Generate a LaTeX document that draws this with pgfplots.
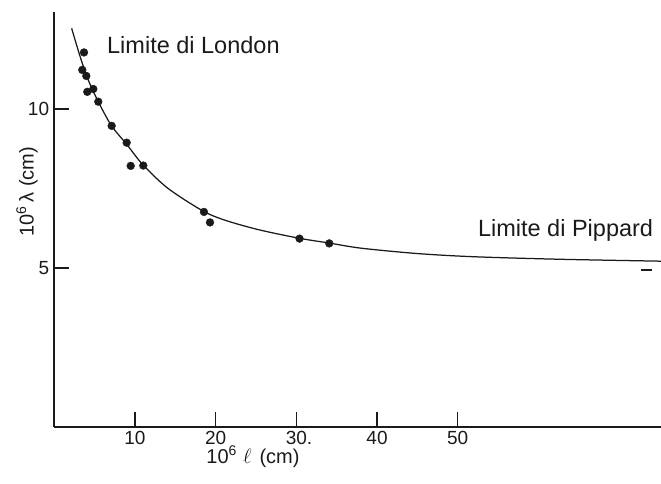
\documentclass[border=0pt]{standalone}
\usepackage{pgfplots}
\pgfplotsset{compat=1.18}
\usepackage{fontspec}
\setmainfont{Liberation Sans}
\definecolor{ink}{HTML}{1A1A1A}
\newcommand\tlfont{\fontsize{19}{19}\selectfont}
\newcommand\lbfont{\fontsize{20}{20}\selectfont}
\newcommand\txfont{\fontsize{23.5}{23.5}\selectfont}
\begin{document}
\begin{tikzpicture}
\useasboundingbox (-54.3pt,-56.3pt) rectangle (606.7pt,426.7pt);
\begin{axis}[
  scale only axis,
  width=606.7pt, height=414.6pt,
  xmin=0, xmax=75.2, ymin=0, ymax=13.05,
  axis x line=bottom, axis y line=left,
  axis line style={-, line width=1.8pt, ink},
  xtick={10,20,30,40,50},
  xticklabels={10,20,30\rlap{.},40,50},
  ytick={5,10},
  yticklabels={5,10},
  tick align=inside,
  major tick length=15pt,
  tick style={line width=1.5pt, ink},
  xticklabel style={font=\tlfont, text=ink, inner sep=0pt, yshift=-4pt},
  yticklabel style={font=\tlfont, text=ink, inner sep=0pt, xshift=-5pt},
  xlabel={10\textsuperscript{6}\hspace{6pt}$\ell$\hspace{8pt}(cm)},
  ylabel={10\textsuperscript{6}\hspace{3pt}λ\hspace{6pt}(cm)},
  xlabel style={font=\lbfont, text=ink, inner sep=0pt, at={(axis description cs:0.3275,-0.0888)}, anchor=base},
  ylabel style={font=\lbfont, text=ink, at={(axis description cs:-0.045,0.567)}, anchor=center},
  clip=false,
]
\addplot[ink, line width=1.25pt, smooth, tension=0.5] coordinates {
  (2.15,12.54) (3.2,11.65) (4.2,10.92) (5.45,10.23) (7.1,9.47) (9.0,8.88)
  (11.0,8.24) (14.1,7.50) (18.5,6.78) (21.4,6.48) (25.5,6.19) (30.4,5.93)
  (34.1,5.78) (38,5.62) (45,5.45) (52,5.35) (62.7,5.27) (75.2,5.21)
};
\addplot[only marks, mark=*, mark size=3.9pt, ink] coordinates {
  (3.68,11.78) (3.47,11.23) (3.97,11.04) (4.83,10.63) (4.09,10.54)
  (5.45,10.23) (7.11,9.47) (8.97,8.94) (9.47,8.21) (11.03,8.22)
  (18.55,6.76) (19.3,6.43) (30.4,5.92) (34.08,5.77)
};
\node[anchor=base west, inner sep=0pt, font=\txfont, text=ink] at (axis cs:6.53,11.76) {Limite di London};
\node[anchor=base west, inner sep=0pt, font=\txfont, text=ink] at (axis cs:52.5,5.98) {Limite di Pippard};
\draw[ink, line width=1.3pt] (axis cs:72.7,4.93) -- (axis cs:74.1,4.93);
\end{axis}
\end{tikzpicture}
\end{document}
